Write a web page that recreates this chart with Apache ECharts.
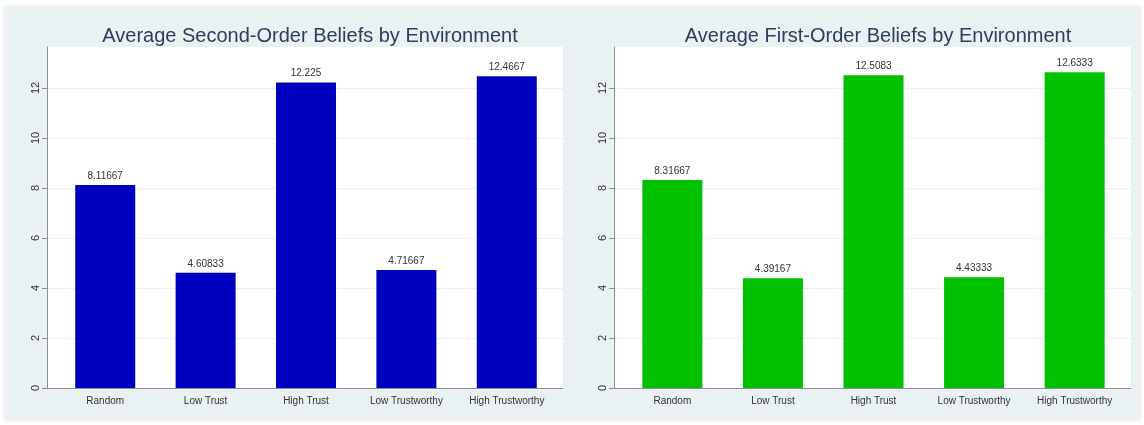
<!DOCTYPE html>
<html>
<head>
<meta charset="utf-8">
<script src="https://cdn.jsdelivr.net/npm/echarts@6/dist/echarts.min.js"></script>
<style>
  html, body { margin: 0; padding: 0; background: #fff; }
  #chart { width: 1144px; height: 425px; }
</style>
</head>
<body>
<div id="chart"></div>
<script>
const categories = ["Random", "Low Trust", "High Trust", "Low Trustworthy", "High Trustworthy"]
const secondOrder = [8.11667, 4.60833, 12.225, 4.71667, 12.4667]
const firstOrder = [8.31667, 4.39167, 12.5083, 4.43333, 12.6333]
const yTicks = [0, 2, 4, 6, 8, 10, 12]

const chart = echarts.init(document.getElementById("chart"))

const font = "'Liberation Sans', Arial, sans-serif"
const catIndex = categories.map((c, i) => i)

// x positions are category indices on a value axis, so the outer gaps can match stata's
function xAxisFor(gridIndex) {
  return {
    type: "value",
    gridIndex: gridIndex,
    min: -0.58,
    max: 4.56,
    splitLine: { show: false },
    axisLine: { show: true, onZero: false, lineStyle: { color: "#8a8f93", width: 1 } },
    axisTick: { show: false },
    axisLabel: {
      color: "#333",
      fontSize: 10,
      fontFamily: font,
      margin: 8,
      customValues: catIndex,
      formatter: (v) => categories[Math.round(v)] || ""
    }
  }
}

function yAxisFor(gridIndex) {
  return {
    type: "value",
    gridIndex: gridIndex,
    min: 0,
    max: 13.64,
    axisLine: { show: true, onZero: false, lineStyle: { color: "#8a8f93", width: 1 } },
    axisTick: { show: true, length: 5, customValues: yTicks, lineStyle: { color: "#8a8f93" } },
    axisLabel: { rotate: 90, color: "#333", fontSize: 11, fontFamily: font, margin: 6, customValues: yTicks },
    splitLine: { show: true, lineStyle: { color: "#e8f0f2", width: 1 } }
  }
}

function barSeries(idx, values, color) {
  return {
    type: "bar",
    xAxisIndex: idx,
    yAxisIndex: idx,
    data: values.map((v, i) => [i, v]),
    barWidth: 60,
    itemStyle: { color: color },
    label: {
      show: true,
      position: "top",
      distance: 4,
      color: "#333",
      fontSize: 10,
      fontFamily: font,
      formatter: (p) => String(p.value[1])
    },
    silent: true
  }
}

const options = {
  backgroundColor: "#fff",
  animation: false,
  graphic: [
    {
      type: "rect",
      z: -10,
      shape: { x: 5, y: 7, width: 1135, height: 413 },
      style: { fill: "#eaf1f3", shadowBlur: 4, shadowColor: "rgba(0,0,0,0.15)" }
    }
  ],
  title: [
    {
      text: "Average Second-Order Beliefs by Environment",
      left: 305,
      top: 21,
      textAlign: "center",
      textStyle: { color: "#2e3d5a", fontSize: 20, fontWeight: "normal", fontFamily: font }
    },
    {
      text: "Average First-Order Beliefs by Environment",
      left: 873,
      top: 21,
      textAlign: "center",
      textStyle: { color: "#2e3d5a", fontSize: 20, fontWeight: "normal", fontFamily: font }
    }
  ],
  grid: [
    { left: 47, right: 581, top: 47, bottom: 37, show: true, backgroundColor: "#fff", borderWidth: 0 },
    { left: 614, right: 13, top: 47, bottom: 37, show: true, backgroundColor: "#fff", borderWidth: 0 }
  ],
  xAxis: [xAxisFor(0), xAxisFor(1)],
  yAxis: [yAxisFor(0), yAxisFor(1)],
  series: [
    barSeries(0, secondOrder, "#0000c0"),
    barSeries(1, firstOrder, "#00c000")
  ]
}

chart.setOption(options)
</script>
</body>
</html>
